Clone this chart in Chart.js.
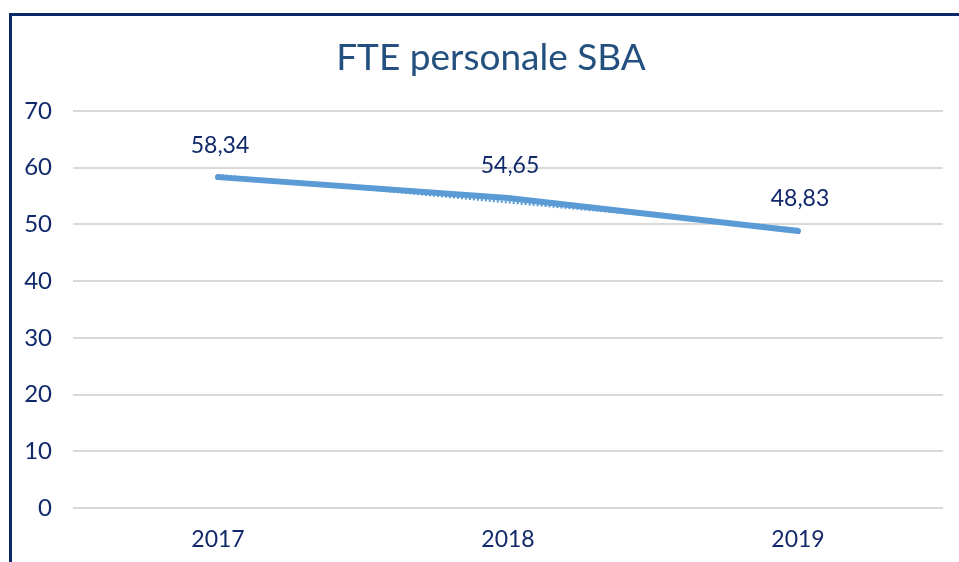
<!DOCTYPE html>
<html>
<head>
<meta charset="utf-8">
<script src="https://cdn.jsdelivr.net/npm/chart.js@4.4.1/dist/chart.umd.min.js"></script>
<style>
  html, body { margin: 0; padding: 0; background: #fff; }
  #wrap { position: relative; width: 959px; height: 562px; }
</style>
</head>
<body>
<div id="wrap"><canvas id="fte-chart" width="959" height="562"></canvas></div>
<script>
// Data
const years = ['2017', '2018', '2019'];
const fteValues = [58.34, 54.65, 48.83];
// dotted trend line drawn just under the main line
const trendValues = [58.7, 53.9, 49.2];
const yTicks = [0, 10, 20, 30, 40, 50, 60, 70];
const chartTitle = 'FTE personale SBA';

const navy = '#11296b';
const lineBlue = '#5b9bd5';

// Frame around the chart (cut off at the right and bottom edges) + title
const framePlugin = {
    id: 'frame',
    afterDraw(chart) {
        const ctx = chart.ctx;
        ctx.save();
        ctx.strokeStyle = '#0b2868';
        ctx.lineWidth = 3;
        ctx.strokeRect(10.5, 14.5, 1000, 600);

        // title is a bit left of the plot centre in the original
        ctx.fillStyle = '#24507f';
        ctx.font = '37px Lato';
        ctx.textAlign = 'center';
        ctx.textBaseline = 'middle';
        ctx.fillText(chartTitle, 491, 58);
        ctx.restore();
    }
};

// Value labels above each point, decimal comma
const valueLabels = {
    id: 'valueLabels',
    afterDatasetsDraw(chart) {
        const ctx = chart.ctx;
        const meta = chart.getDatasetMeta(1);
        ctx.save();
        ctx.fillStyle = navy;
        ctx.font = '23px Lato';
        ctx.textAlign = 'center';
        ctx.textBaseline = 'middle';
        meta.data.forEach((pt, i) => {
            const txt = fteValues[i].toFixed(2).replace('.', ',');
            ctx.fillText(txt, pt.x + 2, pt.y - 32);
        });
        ctx.restore();
    }
};

const ctx = document.getElementById('fte-chart').getContext('2d');
const fteChart = new Chart(ctx, {
    type: 'line',
    data: {
        labels: years,
        datasets: [{
            label: 'Tendenza',
            data: trendValues,
            borderColor: lineBlue,
            borderWidth: 2.5,
            borderDash: [2, 2],
            pointRadius: 0,
            tension: 0,
            order: 2
        }, {
            label: 'FTE',
            data: fteValues,
            borderColor: lineBlue,
            borderWidth: 6,
            borderCapStyle: 'round',
            pointRadius: 0,
            tension: 0,
            order: 1
        }]
    },
    options: {
        responsive: false,
        animation: false,
        layout: {
            padding: { left: 10, right: 16, top: 111, bottom: 0 }
        },
        plugins: {
            legend: { display: false },
            tooltip: { enabled: false },
            title: { display: false }
        },
        scales: {
            x: {
                offset: true,
                grid: { display: false, drawTicks: false },
                border: { display: false },
                ticks: {
                    color: navy,
                    font: { family: 'Lato', size: 23 },
                    padding: 18
                },
                afterFit(scale) { scale.height = 54; }
            },
            y: {
                min: yTicks[0],
                max: yTicks[yTicks.length - 1],
                grid: { color: '#d9d9d9', lineWidth: 2, drawTicks: false },
                border: { display: false },
                ticks: {
                    stepSize: 10,
                    color: navy,
                    font: { family: 'Lato', size: 24 },
                    padding: 21,
                    callback: (v) => yTicks.includes(v) ? String(v) : ''
                },
                afterFit(scale) { scale.width = 63; }
            }
        }
    },
    plugins: [framePlugin, valueLabels]
});
</script>
</body>
</html>
